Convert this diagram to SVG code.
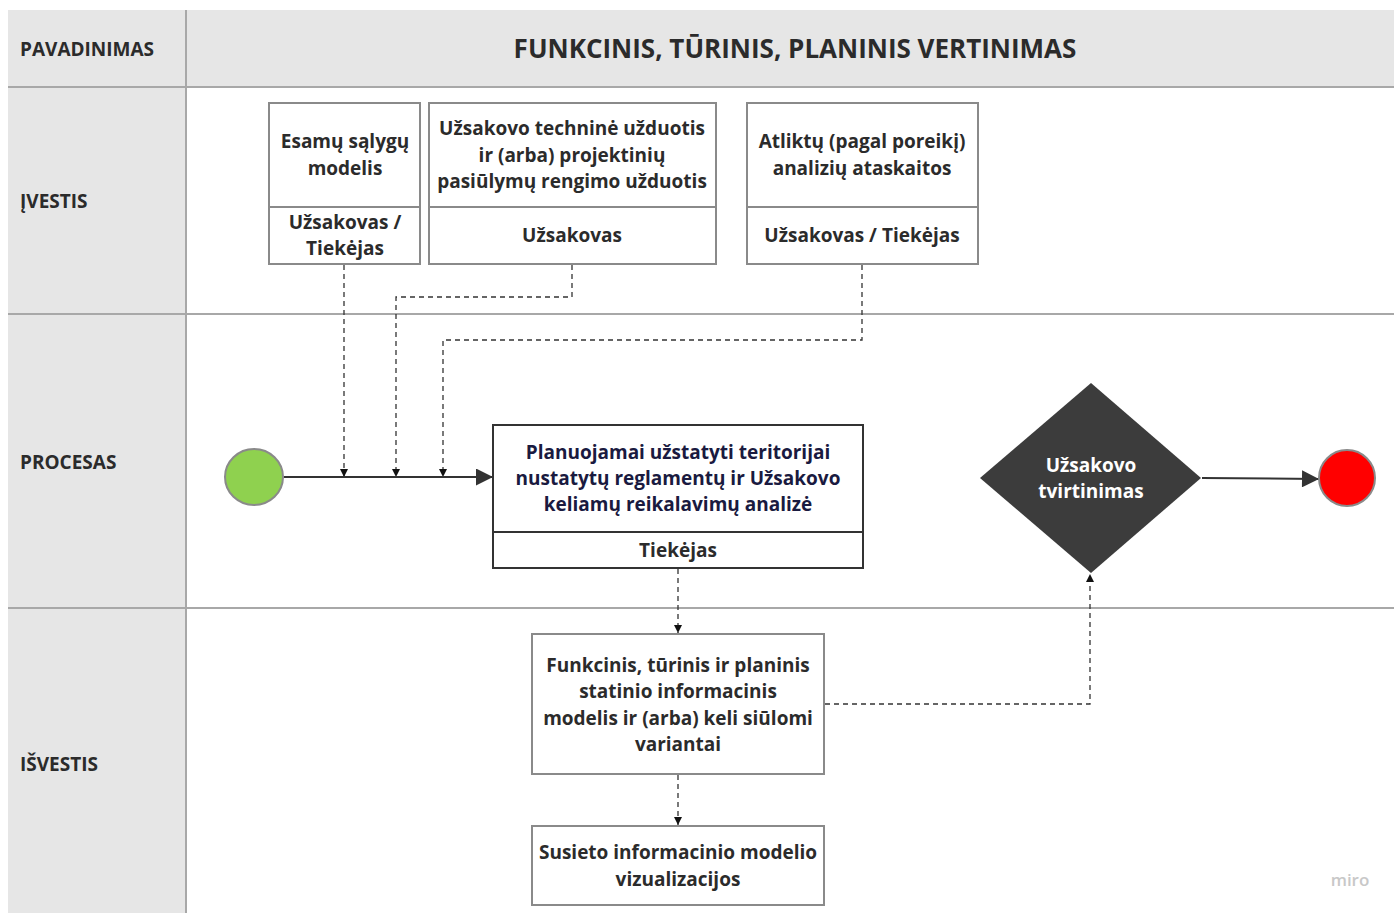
<svg xmlns="http://www.w3.org/2000/svg" width="1394" height="913" viewBox="0 0 1394 913">
<style>
text{font-family:"Open Sans","Noto Sans","Liberation Sans",sans-serif;font-weight:700;fill:#2b2b2b}
.lbl{font-size:19px}
.t{font-size:19px;text-anchor:middle}
.box{fill:#fff;stroke:#8a8a8a;stroke-width:2}
.pbox{fill:#fff;stroke:#333;stroke-width:2}
.lane{stroke:#a8a8a8;stroke-width:2;fill:none}
.dash{fill:none;stroke:#333;stroke-width:1.3;stroke-dasharray:5 4}
.solid{fill:none;stroke:#333;stroke-width:2}
</style>
<defs>
<marker id="ah" viewBox="0 0 10 10" refX="10" refY="5" markerWidth="14" markerHeight="8" markerUnits="userSpaceOnUse" orient="auto"><path d="M0,0 L10,5 L0,10 z" fill="#111"/></marker>
<marker id="ahb" viewBox="0 0 10 10" refX="10" refY="5" markerWidth="20" markerHeight="17" markerUnits="userSpaceOnUse" orient="auto"><path d="M0,0 L10,5 L0,10 z" fill="#333"/></marker>
</defs>
<rect x="0" y="0" width="1394" height="913" fill="#fff"/>
<g id="lanes">
<rect x="8" y="10" width="1386" height="77" fill="#e6e6e6"/>
<rect x="8" y="87" width="178" height="826" fill="#e6e6e6"/>
<line class="lane" x1="186" y1="10" x2="186" y2="913"/>
<line class="lane" x1="8" y1="87" x2="1394" y2="87"/>
<line class="lane" x1="8" y1="314" x2="1394" y2="314"/>
<line class="lane" x1="8" y1="608" x2="1394" y2="608"/>
<text class="lbl" x="20" y="56">PAVADINIMAS</text>
<text x="795" y="58" style="font-size:26px;text-anchor:middle">FUNKCINIS, TŪRINIS, PLANINIS VERTINIMAS</text>
<text class="lbl" x="20" y="208">ĮVESTIS</text>
<text class="lbl" x="20" y="469">PROCESAS</text>
<text class="lbl" x="20" y="771">IŠVESTIS</text>
</g>
<g id="connectors">
<path class="dash" d="M344,265 V477" marker-end="url(#ah)"/>
<path class="dash" d="M572,265 V297 H396 V477" marker-end="url(#ah)"/>
<path class="dash" d="M862,265 V340 H443 V477" marker-end="url(#ah)"/>
<path class="solid" d="M284,477 H493" marker-end="url(#ahb)"/>
<path class="dash" d="M678,569 V633" marker-end="url(#ah)"/>
<path class="dash" d="M678,775 V825" marker-end="url(#ah)"/>
<path class="dash" d="M825,704 H1090 V574" marker-end="url(#ah)"/>
<path class="solid" d="M1202,478 L1319,479" marker-end="url(#ahb)"/>
</g>
<g id="in1">
<rect class="box" x="269" y="103" width="151" height="161"/>
<line class="box" x1="269" y1="207" x2="420" y2="207"/>
<text class="t" x="345" y="148">Esamų sąlygų</text>
<text class="t" x="345" y="175">modelis</text>
<text class="t" x="345" y="229">Užsakovas /</text>
<text class="t" x="345" y="255">Tiekėjas</text>
</g>
<g id="in2">
<rect class="box" x="429" y="103" width="287" height="161"/>
<line class="box" x1="429" y1="207" x2="716" y2="207"/>
<text class="t" x="572" y="135">Užsakovo techninė užduotis</text>
<text class="t" x="572" y="162">ir (arba) projektinių</text>
<text class="t" x="572" y="188">pasiūlymų rengimo užduotis</text>
<text class="t" x="572" y="242">Užsakovas</text>
</g>
<g id="in3">
<rect class="box" x="747" y="103" width="231" height="161"/>
<line class="box" x1="747" y1="207" x2="978" y2="207"/>
<text class="t" x="862" y="148">Atliktų (pagal poreikį)</text>
<text class="t" x="862" y="175">analizių ataskaitos</text>
<text class="t" x="862" y="242">Užsakovas / Tiekėjas</text>
</g>
<g id="start"><ellipse cx="254" cy="477" rx="29" ry="28" fill="#8fd14f" stroke="#8a8a8a" stroke-width="2"/></g>
<g id="process">
<rect class="pbox" x="493" y="425" width="370" height="143"/>
<line class="pbox" x1="493" y1="532" x2="863" y2="532"/>
<text class="t" x="678" y="459" style="fill:#1a1a40">Planuojamai užstatyti teritorijai</text>
<text class="t" x="678" y="485" style="fill:#1a1a40">nustatytų reglamentų ir Užsakovo</text>
<text class="t" x="678" y="511" style="fill:#1a1a40">keliamų reikalavimų analizė</text>
<text class="t" x="678" y="557">Tiekėjas</text>
</g>
<g id="decision">
<polygon points="1091,383 1201,478 1091,573 980,478" fill="#3c3c3c"/>
<text class="t" x="1091" y="472" style="fill:#fff">Užsakovo</text>
<text class="t" x="1091" y="498" style="fill:#fff">tvirtinimas</text>
</g>
<g id="end"><circle cx="1347" cy="478" r="28" fill="#ff0000" stroke="#8a8a8a" stroke-width="2"/></g>
<g id="out1">
<rect class="box" x="532" y="634" width="292" height="140"/>
<text class="t" x="678" y="672">Funkcinis, tūrinis ir planinis</text>
<text class="t" x="678" y="698">statinio informacinis</text>
<text class="t" x="678" y="725">modelis ir (arba) keli siūlomi</text>
<text class="t" x="678" y="751">variantai</text>
</g>
<g id="out2">
<rect class="box" x="532" y="826" width="292" height="79"/>
<text class="t" x="678" y="859">Susieto informacinio modelio</text>
<text class="t" x="678" y="886">vizualizacijos</text>
</g>
<text x="1350" y="886" style="font-size:17px;fill:#c8c8c8;font-weight:600;text-anchor:middle">miro</text>
</svg>
